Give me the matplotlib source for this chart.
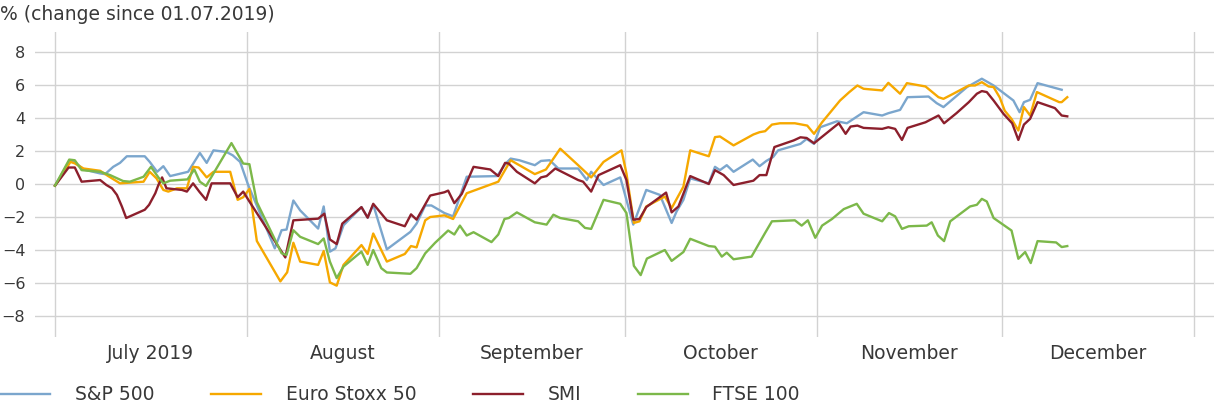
import pandas as pd
import matplotlib.pyplot as plt

start = pd.Timestamp("2019-07-01")

# days since 01.07.2019 and % change
spx_days = [0, 2.4, 3.2, 4.6, 7.3, 8.1, 9.4, 10.5, 11.6, 14.5, 15.3, 16.5, 17.5, 18.6, 21.5, 22.5, 23.4,
            24.5, 25.6, 27.7, 28.7, 29.9, 31.2, 35.5, 36.6, 37.4, 38.5, 39.6, 42.5, 43.4, 44.4, 45.3,
            46.6, 49.5, 50.5, 51.4, 53.6, 57.4, 58.4, 59.8, 60.8, 62.9, 64.3, 66.5, 71.4, 72.8, 73.6,
            75.0, 77.5, 78.5, 79.9, 81.3, 84.5, 85.9, 86.6, 88.6, 91.3, 93.4, 95.5, 97.7, 99.6, 100.4,
            101.5, 102.6, 105.6, 106.6, 107.4, 108.5, 109.6, 112.7, 113.8, 114.9, 116.0, 116.8, 120.4,
            121.4, 122.6, 123.6, 126.3, 127.9, 130.6, 133.6, 134.6, 136.5, 137.7, 141.1, 142.4, 143.5,
            147.3, 149.7, 151.6, 154.8, 155.8, 156.5, 157.5, 158.7, 162.6]
spx_vals = [-0.1, 1.44, 1.34, 0.88, 0.64, 0.6, 1.04, 1.28, 1.68, 1.68, 1.34, 0.74, 1.08, 0.48, 0.74, 1.34,
            1.88, 1.28, 2.04, 1.94, 1.74, 1.34, -0.06, -3.9, -2.8, -2.76, -1.0, -1.6, -2.7, -1.36, -4.1,
            -3.9, -2.5, -1.4, -2.04, -1.25, -3.96, -2.9, -2.4, -1.3, -1.3, -1.76, -1.96, 0.44, 0.48,
            1.24, 1.54, 1.44, 1.14, 1.4, 1.44, 0.94, 0.94, 0.24, 0.74, -0.06, 0.4, -2.46, -0.36, -0.66,
            -2.36, -1.66, -0.96, 0.34, 0.04, 1.04, 0.84, 1.14, 0.74, 1.48, 1.08, 1.4, 1.64, 2.04, 2.43,
            2.73, 2.43, 3.44, 3.8, 3.68, 4.35, 4.15, 4.29, 4.49, 5.26, 5.3, 4.9, 4.66, 5.87, 6.38, 5.97,
            5.06, 4.35, 4.96, 5.1, 6.11, 5.71]

sx5e_days = [0, 2.5, 3.2, 4.6, 7.3, 8.6, 10.5, 14.3, 15.3, 16.4, 17.5, 18.3, 19.7, 21.3, 22.3, 23.2, 24.5,
             25.6, 28.3, 29.5, 30.4, 31.4, 32.6, 36.4, 37.5, 38.5, 39.6, 42.5, 43.4, 44.4, 45.5, 46.6,
             49.5, 50.5, 51.4, 53.6, 56.5, 57.5, 58.4, 59.8, 60.6, 62.9, 64.3, 66.5, 71.6, 73.6, 77.5,
             79.3, 81.6, 84.5, 86.6, 88.6, 91.5, 92.3, 93.5, 94.4, 95.5, 98.5, 99.6, 101.5, 102.6, 105.6,
             106.6, 107.4, 109.6, 112.8, 113.8, 114.7, 115.8, 117.1, 119.5, 121.5, 122.6, 123.9, 126.8,
             128.3, 129.6, 130.6, 133.6, 134.6, 136.5, 137.6, 140.6, 142.7, 143.5, 145.1, 147.6, 148.6,
             149.7, 150.8, 151.6, 152.6, 153.4, 154.5, 155.6, 156.5, 157.5, 158.6, 162.2, 162.6, 163.5]
sx5e_vals = [-0.1, 1.34, 1.25, 0.94, 0.8, 0.48, 0.04, 0.14, 0.74, 0.34, -0.36, -0.46, -0.26, -0.26, 1.04,
             1.0, 0.4, 0.74, 0.74, -0.96, -0.8, -0.3, -3.45, -5.9, -5.35, -3.56, -4.7, -4.9, -4.06,
             -5.96, -6.16, -4.9, -3.7, -4.24, -3.0, -4.7, -4.24, -3.76, -3.84, -2.2, -2.0, -1.9, -2.12,
             -0.56, 0.14, 1.44, 0.6, 0.88, 2.14, 1.14, 0.4, 1.34, 2.04, 0.64, -2.36, -2.26, -1.36, -0.76,
             -1.46, -0.16, 2.04, 1.68, 2.84, 2.88, 2.34, 3.0, 3.14, 3.2, 3.6, 3.68, 3.68, 3.54, 3.04, 3.74,
             5.06, 5.57, 5.97, 5.77, 5.67, 6.13, 5.47, 6.11, 5.91, 5.26, 5.16, 5.47, 5.97, 5.97, 6.17,
             5.91, 5.87, 5.24, 4.44, 3.94, 3.24, 4.66, 4.15, 5.57, 4.96, 4.96, 5.26]

smi_days = [0, 2.2, 3.2, 4.3, 7.3, 8.3, 9.2, 10.0, 10.8, 11.5, 14.5, 15.2, 16.2, 16.7, 17.3, 18.0, 20.5,
            21.3, 22.3, 23.3, 24.4, 25.3, 28.3, 29.5, 30.4, 31.4, 37.2, 38.5, 42.5, 43.5, 44.4, 45.5,
            46.4, 49.5, 50.5, 51.4, 53.6, 56.5, 57.5, 58.4, 60.6, 62.9, 63.5, 64.5, 65.7, 67.6, 70.3,
            71.6, 72.7, 73.3, 74.6, 77.5, 78.5, 79.4, 80.8, 84.5, 85.3, 86.6, 87.8, 91.3, 92.3, 93.4,
            94.4, 95.5, 98.7, 99.6, 100.7, 102.6, 105.6, 106.6, 108.0, 109.6, 112.8, 113.8, 114.9, 116.2,
            119.3, 120.4, 121.4, 122.6, 126.6, 127.7, 128.5, 129.6, 130.6, 133.6, 134.6, 135.7, 136.8,
            137.7, 140.6, 142.7, 143.6, 145.6, 147.6, 148.9, 149.7, 150.5, 151.6, 153.2, 154.6, 155.6,
            156.5, 157.5, 158.7, 161.5, 162.6, 163.5]
smi_vals = [-0.1, 1.0, 1.0, 0.14, 0.24, -0.06, -0.26, -0.66, -1.36, -2.06, -1.56, -1.26, -0.56, -0.06, 0.4,
            -0.26, -0.36, -0.46, 0.04, -0.46, -0.96, 0.04, 0.04, -0.8, -0.46, -1.06, -4.45, -2.2, -2.1,
            -1.8, -3.36, -3.64, -2.4, -1.4, -2.04, -1.2, -2.2, -2.56, -1.84, -2.16, -0.7, -0.5, -0.4,
            -1.16, -0.6, 1.04, 0.88, 0.48, 1.28, 1.24, 0.74, 0.04, 0.4, 0.48, 0.94, 0.24, 0.14, -0.46,
            0.54, 1.14, 0.24, -2.16, -2.12, -1.4, -0.52, -1.72, -1.36, 0.48, 0.0, 0.84, 0.54, -0.06, 0.2,
            0.54, 0.54, 2.24, 2.64, 2.83, 2.79, 2.47, 3.68, 3.04, 3.48, 3.54, 3.4, 3.34, 3.44, 3.34, 2.67,
            3.4, 3.74, 4.15, 3.68, 4.29, 4.96, 5.47, 5.63, 5.57, 5.06, 4.25, 3.68, 2.67, 3.6, 3.95, 4.96,
            4.6, 4.15, 4.1]

ftse_days = [0, 2.3, 3.2, 4.3, 7.3, 8.9, 11.0, 12.1, 14.3, 15.5, 16.7, 17.5, 18.6, 21.4, 22.5, 23.4, 24.4,
             28.5, 30.4, 31.4, 32.6, 36.6, 37.4, 38.5, 39.6, 42.5, 43.4, 44.4, 45.5, 46.6, 49.5, 50.5,
             51.4, 52.7, 53.6, 57.4, 58.4, 59.8, 61.4, 63.5, 64.5, 65.4, 66.5, 67.6, 70.5, 71.6, 72.6,
             73.3, 74.6, 77.5, 79.4, 80.5, 81.6, 84.5, 85.6, 86.6, 88.6, 91.3, 92.3, 93.5, 94.6, 95.6,
             98.5, 99.6, 101.5, 102.6, 105.6, 106.6, 107.7, 108.5, 109.6, 112.5, 114.7, 115.8, 119.5,
             120.6, 121.6, 122.8, 123.9, 125.5, 127.4, 129.5, 130.6, 133.6, 134.7, 135.7, 136.8, 137.9,
             140.8, 141.6, 142.6, 143.6, 144.6, 147.8, 148.9, 149.7, 150.5, 151.6, 154.5, 155.6, 156.7,
             157.6, 158.7, 161.7, 162.6, 163.5]
ftse_vals = [-0.1, 1.48, 1.44, 0.84, 0.74, 0.54, 0.18, 0.14, 0.44, 1.04, 0.4, 0.04, 0.2, 0.28, 0.88, 0.14,
             -0.12, 2.48, 1.24, 1.2, -1.1, -4.2, -4.3, -2.8, -3.2, -3.64, -3.3, -4.7, -5.7, -5.0, -4.1,
             -4.9, -4.0, -5.1, -5.36, -5.44, -5.1, -4.2, -3.56, -2.82, -3.06, -2.52, -3.12, -2.92, -3.52,
             -3.06, -2.12, -2.06, -1.72, -2.32, -2.46, -1.86, -2.06, -2.26, -2.66, -2.72, -0.96, -1.2,
             -1.76, -4.96, -5.52, -4.52, -4.0, -4.66, -4.12, -3.32, -3.76, -3.8, -4.4, -4.16, -4.56, -4.4,
             -2.96, -2.26, -2.2, -2.52, -2.2, -3.26, -2.52, -2.12, -1.52, -1.2, -1.8, -2.26, -1.76, -1.96,
             -2.72, -2.56, -2.52, -2.32, -3.12, -3.46, -2.26, -1.36, -1.26, -0.9, -1.06, -2.06, -2.82,
             -4.53, -4.12, -4.79, -3.46, -3.54, -3.82, -3.76]

month_labels = ["July 2019", "August", "September", "October", "November", "December"]

series = [
    ("S&P 500", spx_days, spx_vals, "#7ba6cd"),
    ("Euro Stoxx 50", sx5e_days, sx5e_vals, "#f6a800"),
    ("SMI", smi_days, smi_vals, "#8c1f2c"),
    ("FTSE 100", ftse_days, ftse_vals, "#7cb84a"),
]

text_col = "#383838"
plt.rcParams["font.family"] = "DejaVu Sans"

fig = plt.figure(figsize=(12.14, 4.08), dpi=100)
ax = fig.add_axes([35 / 1214, 71 / 408, 1179 / 1214, 305 / 408])

for name, days, vals, col in series:
    dates = start + pd.to_timedelta(days, unit="D")
    ax.plot(dates, vals, color=col, lw=1.7, label=name)

# month boundaries as grid, month names centred in between
month_starts = pd.date_range("2019-07-01", "2020-01-01", freq="MS")
mids = month_starts[:-1] + (month_starts[1:] - month_starts[:-1]) / 2

ax.set_xlim(start - pd.Timedelta(days=3.23), start + pd.Timedelta(days=187.2))
ax.set_ylim(-9.27, 9.21)
ax.set_yticks(range(-8, 9, 2))
ax.set_xticks(month_starts)
ax.set_xticklabels([""] * len(month_starts))
ax.set_xticks(mids, labels=month_labels, minor=True)

ax.grid(True, which="major", color="#d2d2d2", lw=1.0)
ax.set_axisbelow(True)
for s in ax.spines.values():
    s.set_visible(False)

ax.tick_params(axis="both", which="both", length=0)
ax.tick_params(axis="y", labelsize=11.5, pad=7, labelcolor=text_col)
ax.tick_params(axis="x", which="minor", labelsize=13.5, pad=5, labelcolor=text_col)

fig.text(0.0, 1 - 15 / 408, "% (change since 01.07.2019)", ha="left", va="center",
         fontsize=13.5, color=text_col)

leg = fig.legend(loc="center left", bbox_to_anchor=(0, 13 / 408), ncol=4, frameon=False,
                 fontsize=13.5, handlelength=2.67, handletextpad=1.33, columnspacing=3.0,
                 borderpad=0, borderaxespad=0)
for t in leg.get_texts():
    t.set_color(text_col)

fig.savefig("out.png", dpi=100)
